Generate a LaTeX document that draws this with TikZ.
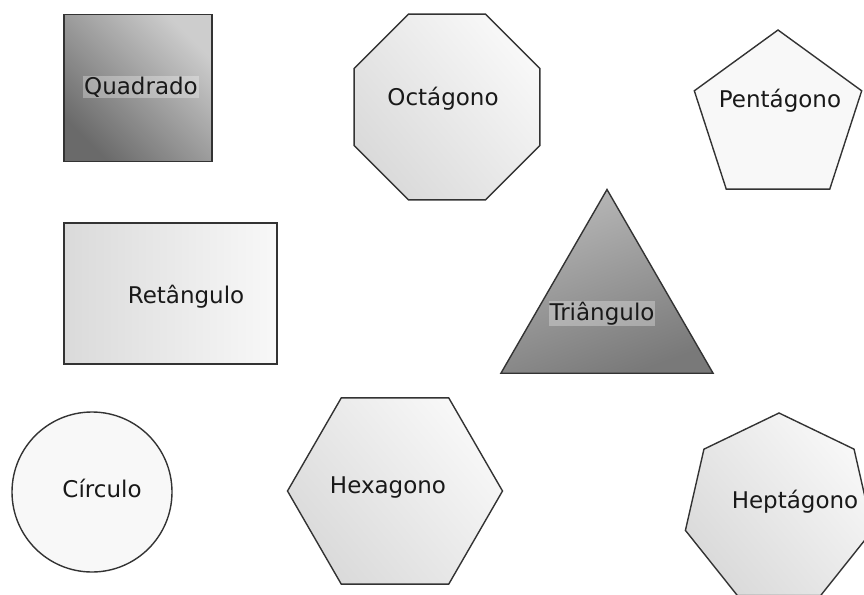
\documentclass[tikz,border=0pt]{standalone}
\usepackage{fontspec}
\setsansfont{DejaVu Sans}
\usetikzlibrary{shapes.geometric}
\definecolor{cline}{HTML}{333333}
\definecolor{cdark}{HTML}{6A6A6A}
\definecolor{cmid}{HTML}{B8B8B8}
\definecolor{clight}{HTML}{DADADA}
\definecolor{cpale}{HTML}{F8F8F8}
\tikzset{
  every picture/.style={font=\sffamily, line width=1.4pt},
  fig/.style={draw=cline, inner sep=0pt, outer sep=0pt},
  poly/.style={fig, regular polygon, regular polygon sides=#1},
  soft/.style={top color=cpale, bottom color=clight, shading angle=#1},
  soft/.default=-50,
  lbl/.style={font=\sffamily\fontsize{23}{23}\selectfont, text=black!90, inner sep=1pt, anchor=base},
  band/.style={lbl, fill=white, fill opacity=0.3, text opacity=1},
}

\begin{document}
\begin{tikzpicture}[x=1pt, y=-1pt]
  \useasboundingbox (0,0) rectangle (864,594);
  % top row
  \node[fig, minimum width=148pt, minimum height=147pt, top color=cmid!70, bottom color=cdark, shading angle=-45] (quad) at (138,88) {};
  \node[poly=8, minimum size=201pt, soft] (oct) at (447,107) {};
  \node[poly=5, minimum size=176pt, fill=cpale] (pent) at (778,118) {};
  % middle row
  \node[fig, minimum width=213pt, minimum height=141pt, soft=-90] (ret) at (170.5,293.5) {};
  \node[poly=3, minimum size=245pt, top color=cmid, bottom color=cdark!90, shading angle=20] (tri) at (607,312) {};
  % bottom row
  \node[fig, circle, minimum size=160pt, fill=cpale] (circ) at (92,492) {};
  \node[poly=6, minimum size=215pt, soft] (hex) at (395,491) {};
  \node[poly=7, minimum size=192pt, soft] (hept) at (779,509) {};

  % labels
  \node[band] (quadlbl) at (141,94) {Quadrado};
  \node[lbl] (octlbl) at (443,105) {Octágono};
  \node[lbl] (pentlbl) at (780,107) {Pentágono};
  \node[lbl] (retlbl) at (186,303) {Retângulo};
  \node[band] (trilbl) at (602,320) {Triângulo};
  \node[lbl] (circlbl) at (102,497) {Círculo};
  \node[lbl] (hexlbl) at (388,493) {Hexagono};
  \node[lbl] (heptlbl) at (795,508) {Heptágono};
\end{tikzpicture}
\end{document}
